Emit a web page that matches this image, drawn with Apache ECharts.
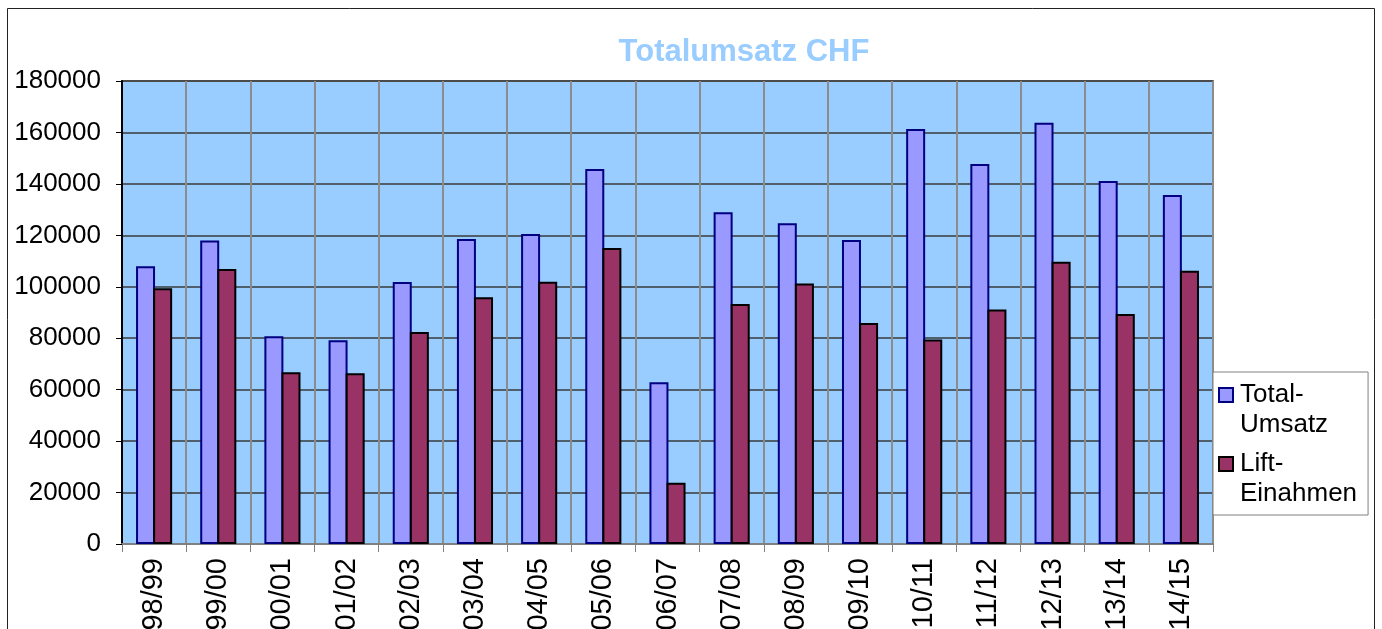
<!DOCTYPE html>
<html>
<head>
<meta charset="utf-8">
<title>Totalumsatz CHF</title>
<script src="https://cdn.jsdelivr.net/npm/echarts@6/dist/echarts.min.js"></script>
<style>
html, body { margin: 0; padding: 0; background: #fff; }
#chart { width: 1382px; height: 629px; }
</style>
</head>
<body>
<div id="chart"></div>
<script>
// Saisons (x-Achse)
var seasons = ['98/99', '99/00', '00/01', '01/02', '02/03', '03/04', '04/05', '05/06', '06/07',
	'07/08', '08/09', '09/10', '10/11', '11/12', '12/13', '13/14', '14/15'];
// Total-Umsatz je Saison
var totalUmsatz = [108000, 118000, 80800, 79200, 101900, 118600, 120500, 145800, 62900,
	129000, 124700, 118200, 161300, 147700, 163800, 141100, 135700];
// Lift-Einahmen je Saison
var liftEinahmen = [99400, 106900, 66750, 66350, 82400, 95900, 102000, 115100, 23850,
	93300, 101300, 85900, 79500, 91200, 109700, 89400, 106200];
// y-Achse
var yMin = 0, yMax = 180000, yStep = 20000;

var font = '"Liberation Sans", Arial, sans-serif';
var myChart = echarts.init(document.getElementById('chart'));

// Legendensymbol: Quadrat oben, unsichtbarer Punkt unten -> Quadrat steht auf Höhe der ersten Zeile
var legendIcon = 'path://M0,0h14v14h-14zM14,44';

var option = {
	animation: false,
	textStyle: { fontFamily: font },
	title: {
		text: 'Totalumsatz CHF',
		left: 739,
		top: 32,
		textAlign: 'center',
		textStyle: { color: '#99CCFF', fontSize: 31, fontWeight: 'bold', fontFamily: font }
	},
	grid: {
		left: 122, right: 169, top: 81, bottom: 85,
		containLabel: false,
		outerBoundsMode: 'none',		// Beschriftung darf unten abgeschnitten werden
		show: true,
		backgroundColor: '#99CCFF',
		borderColor: '#808080',
		borderWidth: 2
	},
	legend: {
		orient: 'vertical',
		left: 1213,
		top: 372,
		padding: [8, 11, 6, 5],
		itemGap: 9,
		itemWidth: 14,
		itemHeight: 44,
		itemStyle: { borderWidth: 2 },
		backgroundColor: '#fff',
		borderColor: '#808080',
		borderWidth: 1,
		borderRadius: 0,
		icon: legendIcon,
		formatter: function (name) { return name.replace('-', '-\n'); },
		textStyle: { fontSize: 26, lineHeight: 30, color: '#000', fontFamily: font, padding: [0, 0, 0, 2] },
		data: ['Total-Umsatz', 'Lift-Einahmen']
	},
	xAxis: {
		type: 'category',
		data: seasons,
		axisLine: { lineStyle: { color: '#808080', width: 2 } },
		axisTick: { show: true, length: 8, lineStyle: { color: '#808080', width: 1 } },
		axisLabel: { rotate: 90, fontSize: 29, color: '#000', margin: 14, interval: 0, fontFamily: font },
		splitLine: { show: true, interval: 0, lineStyle: { color: '#8c8c8c', width: 2 } }
	},
	yAxis: {
		type: 'value',
		min: yMin,
		max: yMax,
		interval: yStep,
		axisLine: { show: true, lineStyle: { color: '#000', width: 2 } },
		axisTick: { show: true, length: 6, lineStyle: { color: '#000' } },
		axisLabel: {
			fontSize: 26, color: '#000', margin: 21, fontFamily: font,
			formatter: function (v) { return String(v); }
		},
		splitLine: { lineStyle: { color: '#3a3a3a', width: 1.5 } }
	},
	series: [{
		name: 'Total-Umsatz',
		type: 'bar',
		data: totalUmsatz,
		barWidth: 19,
		barGap: '-10%',
		itemStyle: { color: '#9999FF', borderColor: '#000080', borderWidth: 2 }
	}, {
		name: 'Lift-Einahmen',
		type: 'bar',
		data: liftEinahmen,
		barWidth: 19,
		barGap: '-10%',
		itemStyle: { color: '#993366', borderColor: '#000', borderWidth: 2 }
	}],
	graphic: [{
		type: 'rect',
		silent: true,
		z: 100,
		shape: { x: 7.5, y: 8.5, width: 1367, height: 660 },
		style: { fill: null, stroke: '#222', lineWidth: 1 }
	}]
};
myChart.setOption(option);
</script>
</body>
</html>
